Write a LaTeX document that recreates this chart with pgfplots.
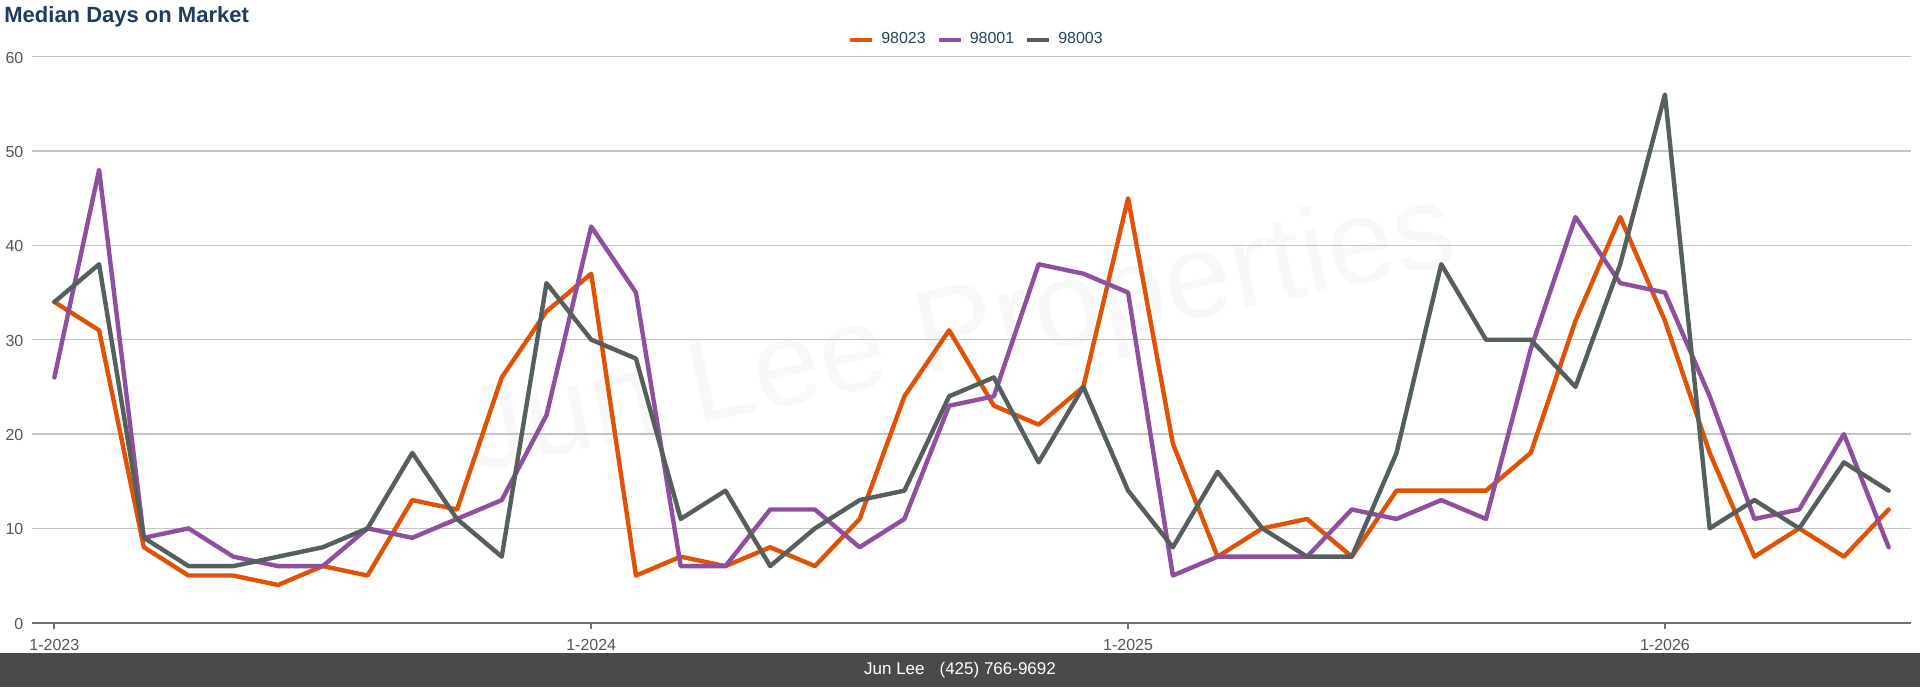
\documentclass[border=0pt]{standalone}
\usepackage{fontspec}
\setmainfont{Liberation Sans}
\usepackage{pgfplots}
\usepackage{pgfplotstable}
\pgfplotsset{compat=1.18}
\definecolor{corange}{RGB}{224,82,6}
\definecolor{cpurple}{RGB}{142,79,158}
\definecolor{cgray}{RGB}{85,96,94}
\definecolor{ctitle}{RGB}{31,59,94}
\definecolor{clegend}{RGB}{40,66,100}
\definecolor{ctick}{RGB}{85,85,85}
\definecolor{cgrid}{RGB}{196,196,196}
\definecolor{caxis}{RGB}{112,112,112}
\definecolor{cfooter}{RGB}{74,74,74}
\definecolor{cwater}{RGB}{248,248,248}

\pgfplotstableread{
m a b c
0 34 26 34
1 31 48 38
2 8 9 9
3 5 10 6
4 5 7 6
5 4 6 7
6 6 6 8
7 5 10 10
8 13 9 18
9 12 11 11
10 26 13 7
11 33 22 36
12 37 42 30
13 5 35 28
14 7 6 11
15 6 6 14
16 8 12 6
17 6 12 10
18 11 8 13
19 24 11 14
20 31 23 24
21 23 24 26
22 21 38 17
23 25 37 25
24 45 35 14
25 19 5 8
26 7 7 16
27 10 7 10
28 11 7 7
29 7 12 7
30 14 11 18
31 14 13 38
32 14 11 30
33 18 29 30
34 32 43 25
35 43 36 38
36 32 35 56
37 18 24 10
38 7 11 13
39 10 12 10
40 7 20 17
41 12 8 14
}\data

\begin{document}
\begin{tikzpicture}
\path[use as bounding box, fill=white] (0,0) rectangle (960pt,-343.5pt);
\fill[cfooter] (0,-326.5pt) rectangle (960pt,-343.5pt);
\node[text=white, font=\fontsize{8.5}{10}\selectfont, inner sep=0pt] at (480pt,-335pt) {Jun Lee\hspace{7.5pt}(425) 766-9692};
\node[anchor=base west, text=ctitle, font=\fontsize{11}{13}\selectfont\bfseries, inner sep=0pt] at (2pt,-11pt) {Median Days on Market};
\node[text=cwater, font=\fontsize{60}{70}\selectfont, rotate=12, inner sep=0pt] at (480.5pt,-168.5pt) {Jun Lee Properties};
\begin{axis}[
  at={(16pt,-311.35pt)}, anchor=south west,
  scale only axis, width=939.5pt, height=283pt,
  xmin=-0.5, xmax=41.5, ymin=0, ymax=60,
  axis line style={draw=none},
  xtick={0,12,24,36},
  xticklabels={1-2023,1-2024,1-2025,1-2026},
  ytick={0,10,20,30,40,50,60},
  ymajorgrids, grid style={cgrid, line width=0.75pt},
  extra y ticks={0}, extra y tick labels={},
  extra y tick style={grid style={caxis, line width=1.2pt}},
  xtick pos=bottom, tick align=outside,
  major tick length=3pt,
  xtick style={caxis, line width=1pt},
  ytick style={draw=none},
  /pgf/number format/assume math mode=true,
  tick label style={font=\fontsize{8}{9.6}\selectfont, text=ctick, inner sep=0pt},
  xticklabel style={anchor=north, yshift=-5pt},
  yticklabel style={anchor=east, xshift=-1.15pt, yshift=-0.5pt},
  legend columns=3,
  legend style={draw=none, fill=none, at={(0.5,1)}, anchor=center, yshift=8.4pt, xshift=2pt,
    font=\fontsize{8}{9.6}\selectfont, text=clegend,
    nodes={inner sep=0pt},
    /tikz/every odd column/.append style={column sep=3.5pt},
    /tikz/every even column/.append style={column sep=5.5pt}},
  legend image code/.code={\draw[#1, line width=2pt, line cap=butt] (0pt,0pt) -- (11pt,0pt);},
  every axis plot/.append style={line width=2.2pt, line join=round, line cap=round, mark=none},
]
\addplot[corange] table[x=m, y=a] {\data};
\addplot[cpurple] table[x=m, y=b] {\data};
\addplot[cgray] table[x=m, y=c] {\data};
\legend{98023,98001,98003}
\end{axis}
\end{tikzpicture}
\end{document}
